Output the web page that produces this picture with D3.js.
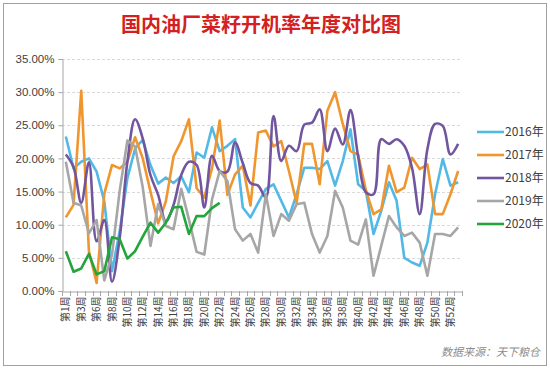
<!DOCTYPE html>
<html>
<head>
<meta charset="utf-8">
<script src="https://cdn.jsdelivr.net/npm/d3@7"></script>
<style>
  body { margin: 0; background: #fff; }
  svg { display: block; font-family: "Liberation Sans", "Noto Sans CJK SC", sans-serif; }
</style>
</head>
<body>
<div id="chart"></div>
<script>
const width = 550, height = 369;

// week categories (one week missing in the source table)
var weeks = [1, 2, 3, 4].concat(d3.range(6, 54));
var categories = weeks.map(w => "第" + w + "周");

var yTicks = [0, 5, 10, 15, 20, 25, 30, 35];

var years = ["2016年", "2017年", "2018年", "2019年", "2020年"];

var v2016 = [23.3, 18.5, 19.5, 20.0, 18.0, 13.5, 3.0, 9.0, 17.0, 21.5, 22.8, 19.0, 16.2, 17.1, 16.3, 17.3, 14.9, 20.9, 20.1, 24.7,
             21.1, 21.9, 22.9, 12.6, 11.1, 13.3, 15.4, 16.1, 13.6, 11.1, 14.6, 18.6, 18.6, 18.4, 19.6, 15.9, 19.6, 24.4, 16.1, 15.1,
             8.6, 12.1, 16.4, 13.6, 5.0, 4.3, 3.8, 7.3, 14.6, 19.9, 15.9, 16.4];
var v2017 = [11.1, 13.0, 30.2, 6.0, 1.2, 14.7, 19.0, 18.5, 19.5, 23.2, 20.0, 15.0, 10.2, 13.5, 20.3, 22.6, 25.9, 15.5, 14.1, 18.5,
             25.7, 14.5, 17.6, 18.9, 12.9, 23.9, 24.2, 21.8, 22.6, 18.1, 13.3, 22.2, 22.2, 16.1, 27.2, 30.0, 25.2, 21.1, 20.6, 15.2,
             11.6, 12.3, 18.9, 14.9, 15.6, 20.1, 18.4, 19.1, 11.6, 11.6, 14.6, 18.1];
var v2018 = [20.6, 18.7, 13.3, 19.4, 7.5, 10.7, 1.4, 8.0, 19.5, 25.9, 23.0, 17.5, 14.5, 10.5, 13.0, 17.5, 19.5, 19.0, 12.6, 20.4,
             18.1, 18.0, 22.4, 19.3, 16.3, 15.9, 14.1, 26.4, 19.6, 21.9, 21.1, 25.1, 25.4, 27.4, 21.1, 24.5, 22.1, 27.3, 20.3, 14.9,
             14.6, 22.9, 22.2, 22.9, 21.9, 18.6, 11.6, 21.4, 25.2, 24.9, 20.6, 22.2];
var v2019 = [19.5, 13.3, 12.9, 8.7, 10.7, 1.6, 5.5, 15.1, 22.7, 21.8, 15.6, 6.8, 13.1, 9.8, 9.3, 15.4, 10.8, 5.9, 5.5, 13.8,
             18.1, 16.6, 9.3, 7.6, 8.6, 5.8, 14.6, 8.3, 11.6, 10.6, 13.1, 13.3, 8.6, 5.8, 8.3, 15.1, 12.6, 7.6, 7.0, 10.8,
             2.3, 6.8, 11.3, 9.6, 8.3, 8.8, 7.3, 2.3, 8.6, 8.6, 8.3, 9.6];
var v2020 = [6.0, 2.9, 3.4, 5.6, 2.5, 3.0, 8.1, 7.8, 4.9, 6.0, 8.2, 10.3, 8.8, 10.3, 12.6, 12.7, 8.6, 11.3, 11.3, 12.5, 13.3];

var series = [
    {name: years[0], values: v2016, color: "#52b9e6", smooth: false},
    {name: years[1], values: v2017, color: "#f0962e", smooth: false},
    {name: years[2], values: v2018, color: "#71569f", smooth: true},
    {name: years[3], values: v2019, color: "#a6a6a6", smooth: false},
    {name: years[4], values: v2020, color: "#22a63c", smooth: false}
];

var margin = {left: 62, top: 59, right: 88, bottom: 78};

var svg = d3.select("#chart").append("svg")
    .attr("width", width)
    .attr("height", height);

svg.append("rect")
    .attr("x", 3.5).attr("y", 3.5)
    .attr("width", width - 7).attr("height", height - 7)
    .attr("fill", "#fff")
    .attr("stroke", "#a0a0a0");

svg.append("text")
    .attr("x", 261).attr("y", 32)
    .attr("text-anchor", "middle")
    .attr("fill", "#d42020")
    .style("font-family", "'Noto Sans CJK SC', sans-serif")
    .style("font-size", "20px")
    .style("font-weight", "bold")
    .text("国内油厂菜籽开机率年度对比图");

var x = d3.scaleBand()
    .domain(categories)
    .range([margin.left, width - margin.right]);

var y = d3.scaleLinear()
    .domain([0, 35])
    .range([height - margin.bottom, margin.top]);

// grid
svg.append("g")
    .selectAll("line")
    .data(yTicks.filter(d => d > 0))
    .join("line")
    .attr("x1", margin.left).attr("x2", width - margin.right)
    .attr("y1", d => Math.round(y(d)) + 0.5).attr("y2", d => Math.round(y(d)) + 0.5)
    .attr("stroke", "#d9d9d9")
    .attr("stroke-dasharray", "3,2");

// y axis
var yAxis = svg.append("g")
    .attr("transform", "translate(" + (margin.left + 0.5) + ",0)")
    .call(d3.axisLeft(y).tickValues(yTicks).tickSize(4).tickFormat(d => d.toFixed(2) + "%"));
yAxis.select(".domain").attr("stroke", "#a6a6a6");
yAxis.selectAll(".tick line").attr("stroke", "#a6a6a6");
yAxis.selectAll(".tick text")
    .attr("x", -8)
    .attr("fill", "#404040")
    .style("font-size", "11.5px");

// x axis
var xAxis = svg.append("g")
    .attr("transform", "translate(0," + (Math.round(y(0)) + 0.5) + ")")
    .call(d3.axisBottom(x).tickSize(0).tickFormat((d, i) => i % 2 == 0 ? d : ""));
xAxis.select(".domain").attr("stroke", "#a6a6a6");
xAxis.selectAll(".tick text")
    .attr("transform", "rotate(-90)")
    .attr("text-anchor", "end")
    .attr("x", -5).attr("y", 0).attr("dy", "0.35em")
    .attr("fill", "#404040")
    .style("font-family", "'Noto Sans CJK SC', sans-serif")
    .style("font-size", "10px");

// ticks at category boundaries
svg.append("g")
    .selectAll("line")
    .data(d3.range(categories.length + 1))
    .join("line")
    .attr("x1", i => Math.round(margin.left + i * x.step()) + 0.5)
    .attr("x2", i => Math.round(margin.left + i * x.step()) + 0.5)
    .attr("y1", Math.round(y(0))).attr("y2", Math.round(y(0)) + 5)
    .attr("stroke", "#a6a6a6");

// lines
series.forEach(function (s) {
    var line = d3.line()
        .x((d, i) => x(categories[i]) + x.bandwidth() / 2)
        .y(d => y(d))
        .curve(s.smooth ? d3.curveCatmullRom.alpha(0.5) : d3.curveLinear);
    svg.append("path")
        .datum(s.values)
        .attr("fill", "none")
        .attr("stroke", s.color)
        .attr("stroke-width", 2.6)
        .attr("stroke-linejoin", "round")
        .attr("d", line);
});

// legend
var legend = svg.append("g")
    .selectAll("g")
    .data(series)
    .join("g")
    .attr("transform", (d, i) => "translate(477," + (132 + i * 23) + ")");
legend.append("line")
    .attr("x1", 0).attr("x2", 27)
    .attr("stroke", d => d.color)
    .attr("stroke-width", 2.6);
legend.append("text")
    .attr("x", 28).attr("dy", "0.35em")
    .attr("fill", "#404040")
    .style("font-family", "'Noto Sans CJK SC', sans-serif")
    .style("font-size", "12px")
    .text(d => d.name);

svg.append("text")
    .attr("x", 540).attr("y", 356)
    .attr("text-anchor", "end")
    .attr("fill", "#8c8c8c")
    .style("font-family", "'Noto Sans CJK SC', sans-serif")
    .style("font-style", "italic")
    .style("font-size", "11px")
    .text("数据来源：天下粮仓");
</script>
</body>
</html>
